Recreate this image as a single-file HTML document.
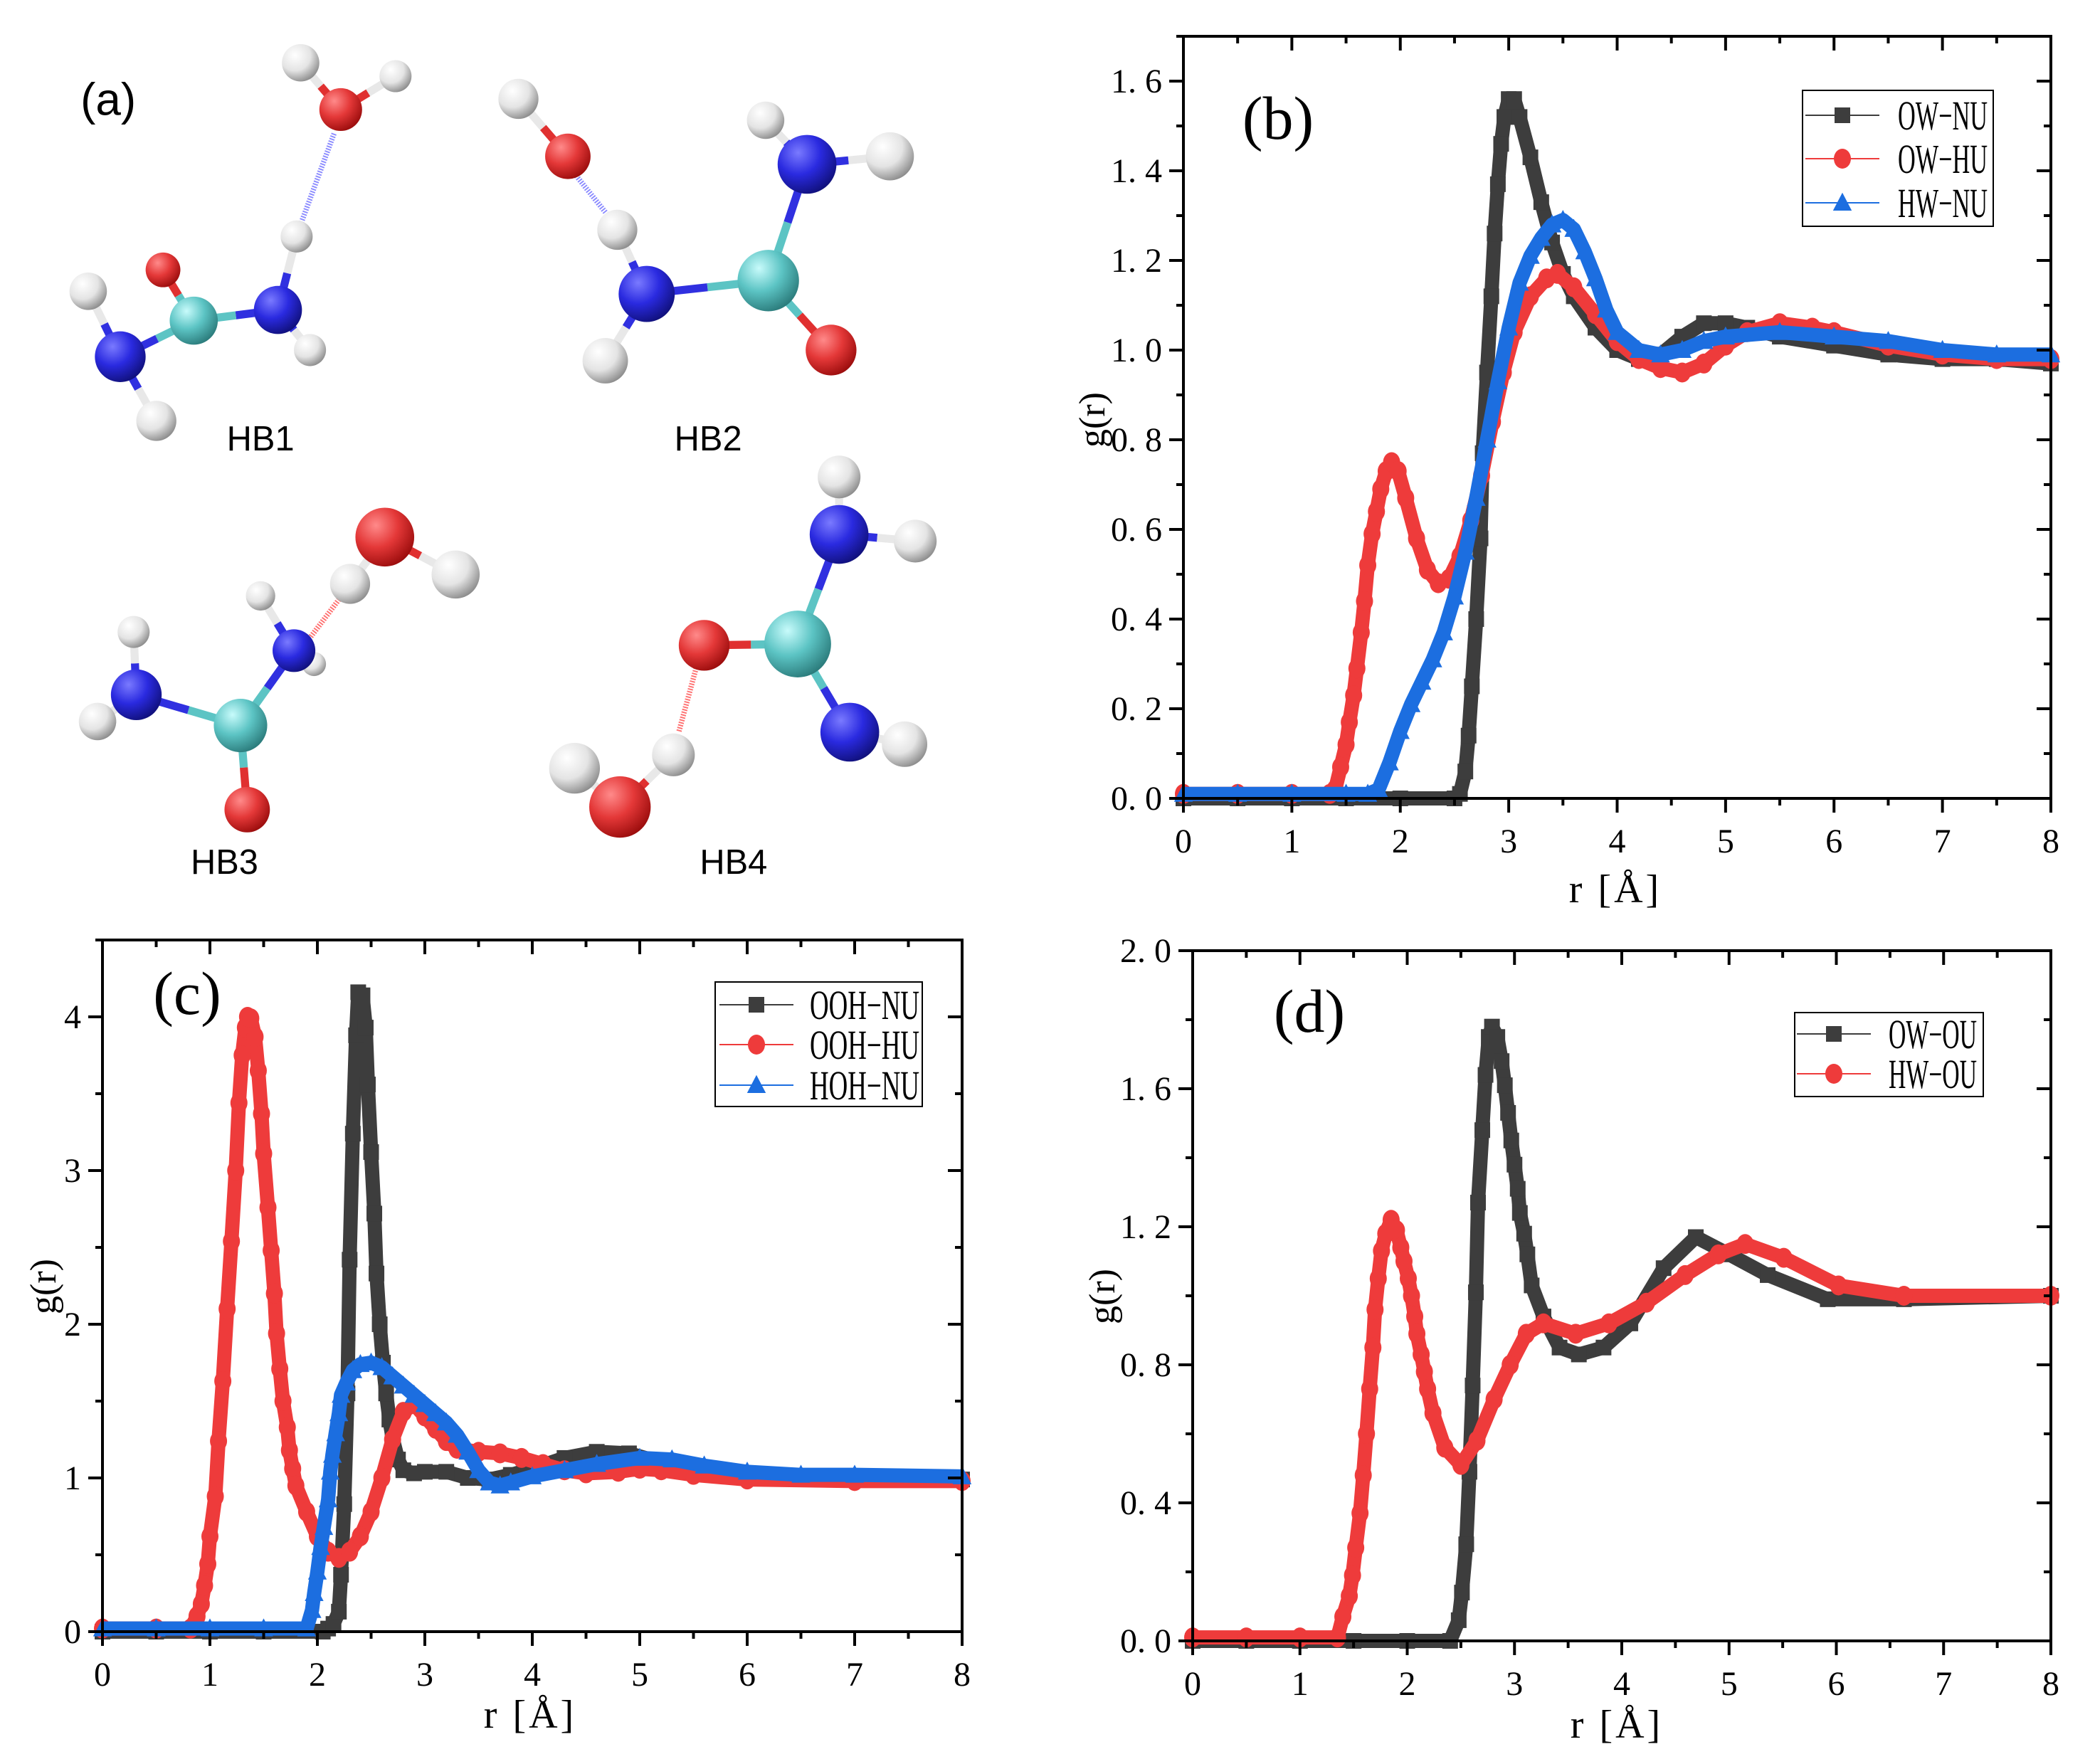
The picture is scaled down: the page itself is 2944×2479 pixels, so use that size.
<!DOCTYPE html>
<html><head><meta charset="utf-8"><style>
html,body{margin:0;padding:0;background:#fff}
svg{display:block}
</style></head><body>
<svg id="fig" xmlns="http://www.w3.org/2000/svg" width="2944" height="2479" viewBox="0 0 2944 2479">
<defs>
<radialGradient id="gW" cx="35%" cy="30%" r="75%"><stop offset="0" stop-color="#ffffff"/><stop offset="0.55" stop-color="#e4e4e4"/><stop offset="1" stop-color="#8a8a8a"/></radialGradient>
<radialGradient id="gR" cx="35%" cy="30%" r="75%"><stop offset="0" stop-color="#ff8a8a"/><stop offset="0.5" stop-color="#e43838"/><stop offset="1" stop-color="#9a0c0c"/></radialGradient>
<radialGradient id="gB" cx="35%" cy="30%" r="75%"><stop offset="0" stop-color="#7a7aff"/><stop offset="0.5" stop-color="#2a2ae0"/><stop offset="1" stop-color="#10107a"/></radialGradient>
<radialGradient id="gC" cx="35%" cy="30%" r="75%"><stop offset="0" stop-color="#c8fbfb"/><stop offset="0.5" stop-color="#5cc4c4"/><stop offset="1" stop-color="#2a7a7a"/></radialGradient>
</defs>
<g id="panelA" transform="scale(1.8776)"></g>
<g id="charts"></g>
</svg>
<script>
// ---------- Panel (b) data ----------
const bBlackX = [0,0.5,1,1.5,2,2.5,2.55,2.6,2.63,2.66,2.7,2.74,2.76,2.8,2.84,2.87,2.9,2.93,2.96,3.0,3.05,3.1,3.2,3.3,3.4,3.5,3.6,3.8,4.0,4.2,4.4,4.6,4.8,5.0,5.2,5.5,6.0,6.5,7.0,7.5,8.0];
const bBlackY = [0,0,0,0,0,0,0.01,0.06,0.14,0.25,0.40,0.58,0.77,0.95,1.12,1.26,1.37,1.46,1.52,1.56,1.56,1.52,1.43,1.33,1.24,1.17,1.12,1.05,1.00,0.98,0.99,1.03,1.06,1.06,1.05,1.03,1.01,0.99,0.98,0.98,0.97];
const bRedX = [0,0.5,1,1.35,1.4,1.45,1.5,1.53,1.57,1.6,1.64,1.67,1.7,1.74,1.78,1.82,1.87,1.92,1.98,2.05,2.15,2.25,2.35,2.45,2.55,2.65,2.75,2.85,2.95,3.05,3.2,3.35,3.45,3.6,3.8,4.0,4.2,4.4,4.6,4.8,5.0,5.2,5.5,5.8,6.0,6.5,7.0,7.5,8.0];
const bRedY = [0.01,0.01,0.01,0.01,0.02,0.07,0.12,0.17,0.23,0.29,0.37,0.44,0.52,0.59,0.64,0.69,0.73,0.75,0.73,0.67,0.58,0.51,0.48,0.49,0.54,0.62,0.72,0.84,0.95,1.04,1.12,1.16,1.17,1.14,1.08,1.02,0.98,0.96,0.95,0.97,1.01,1.04,1.06,1.05,1.04,1.01,0.99,0.98,0.98];
const bBlueX = [0,0.5,1,1.5,1.7,1.8,1.9,2.0,2.1,2.2,2.3,2.4,2.5,2.6,2.7,2.8,2.9,3.0,3.1,3.2,3.3,3.4,3.5,3.6,3.7,3.8,3.9,4.0,4.2,4.4,4.6,4.8,5.0,5.5,6.0,6.5,7.0,7.5,8.0];
const bBlueY = [0.01,0.01,0.01,0.01,0.01,0.02,0.08,0.15,0.21,0.26,0.31,0.37,0.45,0.55,0.67,0.80,0.93,1.05,1.15,1.21,1.25,1.28,1.29,1.27,1.22,1.16,1.09,1.04,1.00,0.99,1.00,1.02,1.03,1.04,1.03,1.02,1.00,0.99,0.99];
// ---------- Panel (c) data ----------
const cBlackX = [0,0.5,1,1.5,2.05,2.1,2.15,2.2,2.22,2.25,2.28,2.3,2.33,2.36,2.38,2.42,2.45,2.47,2.5,2.53,2.55,2.58,2.61,2.64,2.67,2.7,2.75,2.8,2.9,3.0,3.2,3.4,3.6,3.8,4.0,4.3,4.6,4.9,5.2,5.5,6.0,7.0,8.0];
const cBlackY = [0,0,0,0,0,0.02,0.05,0.13,0.37,0.83,1.55,2.42,3.24,3.88,4.16,4.14,3.93,3.56,3.12,2.72,2.33,2.0,1.75,1.55,1.38,1.26,1.12,1.05,1.03,1.04,1.04,1.0,0.99,1.02,1.06,1.13,1.17,1.16,1.10,1.04,1.0,1.0,0.99];
const cRedX = [0,0.5,0.82,0.88,0.92,0.95,0.98,1.0,1.05,1.08,1.12,1.16,1.2,1.24,1.27,1.3,1.33,1.35,1.38,1.42,1.45,1.48,1.5,1.54,1.57,1.6,1.62,1.65,1.68,1.72,1.74,1.77,1.8,1.9,2.0,2.1,2.2,2.3,2.4,2.5,2.6,2.7,2.8,2.9,3.0,3.1,3.2,3.3,3.5,3.7,3.9,4.1,4.3,4.5,4.8,5.0,5.2,5.5,6.0,7.0,8.0];
const cRedY = [0.02,0.02,0.02,0.1,0.18,0.3,0.44,0.62,0.88,1.24,1.63,2.1,2.54,3.0,3.44,3.75,3.93,4.0,3.99,3.87,3.65,3.37,3.11,2.76,2.48,2.2,1.94,1.71,1.5,1.33,1.18,1.06,0.95,0.78,0.62,0.52,0.48,0.52,0.62,0.78,1.0,1.25,1.43,1.48,1.4,1.32,1.24,1.19,1.17,1.16,1.13,1.09,1.05,1.03,1.04,1.06,1.05,1.02,0.99,0.98,0.98];
const cBlueX = [0,0.5,1,1.5,1.9,1.95,1.97,2.0,2.03,2.06,2.1,2.12,2.14,2.17,2.2,2.22,2.27,2.33,2.4,2.5,2.6,2.7,2.8,2.9,3.0,3.1,3.2,3.3,3.4,3.5,3.6,3.7,3.8,4.0,4.3,4.6,5.0,5.3,5.6,6.0,6.5,7.0,8.0];
const cBlueY = [0.02,0.02,0.02,0.02,0.02,0.14,0.25,0.39,0.55,0.68,0.86,1.04,1.15,1.29,1.42,1.54,1.62,1.7,1.74,1.75,1.72,1.66,1.6,1.54,1.48,1.42,1.36,1.28,1.17,1.05,0.97,0.95,0.97,1.01,1.05,1.09,1.13,1.12,1.08,1.04,1.02,1.02,1.01];
// ---------- Panel (d) data ----------
const dBlackX = [0,0.5,1,1.5,2,2.4,2.48,2.51,2.55,2.58,2.61,2.64,2.66,2.7,2.73,2.76,2.79,2.84,2.88,2.91,2.94,2.97,3.0,3.03,3.05,3.09,3.12,3.16,3.27,3.42,3.6,3.83,4.08,4.39,4.69,5.0,5.36,5.92,6.63,8.0];
const dBlackY = [0,0,0,0,0,0,0.06,0.14,0.28,0.49,0.74,1.01,1.27,1.48,1.64,1.75,1.78,1.75,1.68,1.61,1.53,1.45,1.38,1.31,1.24,1.18,1.12,1.03,0.94,0.85,0.83,0.85,0.92,1.08,1.17,1.12,1.06,0.99,0.99,1.0];
const dRedX = [0,0.5,1,1.35,1.4,1.46,1.49,1.52,1.56,1.59,1.62,1.65,1.68,1.7,1.73,1.76,1.8,1.85,1.9,1.94,1.97,2.01,2.04,2.07,2.09,2.13,2.16,2.19,2.24,2.35,2.5,2.65,2.81,2.96,3.11,3.27,3.57,3.88,4.23,4.59,4.9,5.15,5.51,6.02,6.63,8.0];
const dRedY = [0.01,0.01,0.01,0.01,0.07,0.13,0.19,0.27,0.37,0.48,0.6,0.73,0.85,0.96,1.05,1.13,1.18,1.22,1.19,1.14,1.1,1.05,1.0,0.94,0.89,0.83,0.78,0.73,0.66,0.56,0.51,0.58,0.7,0.8,0.89,0.92,0.89,0.92,0.98,1.06,1.12,1.15,1.11,1.03,1.0,1.0];
// ---------- Tick labels ----------
const bYTicks = [0,0.2,0.4,0.6,0.8,1.0,1.2,1.4,1.6];
const bYLabels = ["0. 0","0. 2","0. 4","0. 6","0. 8","1. 0","1. 2","1. 4","1. 6"];
const cYTicks = [0,1,2,3,4];
const cYLabels = ["0","1","2","3","4"];
const dYTicks = [0,0.4,0.8,1.2,1.6,2.0];
const dYLabels = ["0. 0","0. 4","0. 8","1. 2","1. 6","2. 0"];
const xTicks = [0,1,2,3,4,5,6,7,8];
const xLabels = ["0","1","2","3","4","5","6","7","8"];
const bLegend = ["OW−NU","OW−HU","HW−NU"];
const cLegend = ["OOH−NU","OOH−HU","HOH−NU"];
const dLegend = ["OW−OU","HW−OU"];

const NS = "http://www.w3.org/2000/svg";
function mk(tag, attrs, parent){ const e=document.createElementNS(NS,tag); for(const k in attrs) e.setAttribute(k,attrs[k]); if(parent) parent.appendChild(e); return e; }
const COL = {black:"#3d3d3d", red:"#ee3b3b", blue:"#1c6ee0"};
const SERIF = '"Liberation Serif","Noto Serif CJK SC",serif';

function marker(g, kind, cx, cy, s, col){
  let m;
  if(kind==="square") m = mk("rect",{x:cx-s/2,y:cy-s/2,width:s,height:s,fill:col},g);
  else if(kind==="circle") m = mk("ellipse",{cx:cx,cy:cy,rx:s/2+1,ry:s/2+3,fill:col},g);
  else m = mk("polygon",{points:`${cx},${cy-s*0.65} ${cx-s*0.6},${cy+s*0.5} ${cx+s*0.6},${cy+s*0.5}`,fill:col},g);
  return m;
}

function drawPanel(p){
  const root = document.getElementById("charts");
  const g = mk("g",{},root);
  
  
  const sx = v => p.L + v/8*(p.R-p.L);
  const sy = v => p.B - v/p.ymax*(p.B-p.T);
  p.series.forEach(s=>{
    const sg = mk("g",{},g);
    
    
    const pts = s.x.map((x,i)=>sx(x)+","+sy(s.y[i])).join(" ");
    mk("polyline",{points:pts,fill:"none",stroke:s.col,"stroke-width":2},sg);
    const band = mk("polyline",{points:pts,fill:"none",stroke:s.col,"stroke-width":p.band,"stroke-linejoin":"round","stroke-linecap":"butt","stroke-opacity":1},sg);
    
    
    s.x.forEach((x,i)=>{
      const m = marker(sg, s.kind, sx(x), sy(s.y[i]), p.ms, s.col);
      
      
    });
  });
  const fr = mk("rect",{x:p.L,y:p.T,width:p.R-p.L,height:p.B-p.T,fill:"none",stroke:"#000","stroke-width":4},g);
  
  
  for(let v=0; v<=8.001; v+=0.5){
    const major = Math.abs(v-Math.round(v))<1e-6;
    const len = major?20:10;
    mk("line",{x1:sx(v),x2:sx(v),y1:p.B,y2:p.B+len,stroke:"#000","stroke-width":4},g);
    mk("line",{x1:sx(v),x2:sx(v),y1:p.T,y2:p.T+len,stroke:"#000","stroke-width":4},g);
  }
  xTicks.forEach((v,i)=>{
    const t = mk("text",{x:sx(v),y:p.B+p.xlabDy,"font-family":SERIF,"font-size":48,"text-anchor":"middle"},g);
    t.textContent = xLabels[i];
    
    
  });
  for(let v=0; v<=p.ymax+1e-6; v+=p.yminor){
    const isMajor = p.yt.some(t=>Math.abs(t-v)<1e-6);
    const len = isMajor?20:10;
    mk("line",{x1:p.L-len,x2:p.L,y1:sy(v),y2:sy(v),stroke:"#000","stroke-width":4},g);
    mk("line",{x1:p.R-len,x2:p.R,y1:sy(v),y2:sy(v),stroke:"#000","stroke-width":4},g);
  }
  p.yt.forEach((v,i)=>{
    const t = mk("text",{x:p.L-30,y:sy(v)+16,"font-family":SERIF,"font-size":48,"text-anchor":"end"},g);
    t.textContent = p.yl[i];
    
    
  });
  const xt = mk("text",{x:p.xtX,y:p.xtY,"font-family":SERIF,"font-size":56,"text-anchor":"middle","letter-spacing":"4"},g);
  xt.textContent = "r [Å]";
  
  
  const yt = mk("text",{x:0,y:0,"font-family":SERIF,"font-size":52,"text-anchor":"middle",transform:`translate(${p.ytX},${p.ytY}) rotate(-90)`},g);
  yt.textContent = "g(r)";
  
  
  const pl = mk("text",{x:p.plX,y:p.plY,"font-family":SERIF,"font-size":86,"text-anchor":"middle"},g);
  pl.textContent = p.label;
  
  
  const lg = mk("g",{},g);
  
  
  mk("rect",{x:p.lg.x,y:p.lg.y,width:p.lg.w,height:p.lg.h,fill:"#fff",stroke:"#000","stroke-width":2},lg);
  p.series.forEach((s,i)=>{
    const ey = p.lg.ey[i];
    const eg = mk("g",{},lg);
    
    
    mk("line",{x1:p.lg.mx-52,x2:p.lg.mx+52,y1:ey,y2:ey,stroke:s.col,"stroke-width":2},eg);
    marker(eg, s.kind, p.lg.mx, ey, 22, s.col);
    const t = mk("text",{x:p.lg.tx,y:ey+20,"font-family":SERIF,"font-size":58,textLength:p.lg.tw,lengthAdjust:"spacingAndGlyphs"},eg);
    t.textContent = p.legend[i];
  });
}

drawPanel({name:"chart-b", L:1663,R:2882,T:51,B:1122,ymax:1.7,yminor:0.1,yt:bYTicks,yl:bYLabels,
  band:20, ms:22, xlabDy:76, xtX:2270, xtY:1268, ytX:1552, ytY:590, plX:1796, plY:195, label:"(b)",
  lg:{x:2533,y:127,w:268,h:191,ey:[162,223,285],mx:2589,tx:2667,tw:126}, legend:bLegend,
  series:[{id:"ow-nu",x:bBlackX,y:bBlackY,col:COL.black,kind:"square"},
          {id:"ow-hu",x:bRedX,y:bRedY,col:COL.red,kind:"circle"},
          {id:"hw-nu",x:bBlueX,y:bBlueY,col:COL.blue,kind:"triangle"}]});
drawPanel({name:"chart-c", L:144,R:1352,T:1321,B:2293,ymax:4.5,yminor:0.5,yt:cYTicks,yl:cYLabels,
  band:20, ms:22, xlabDy:76, xtX:745, xtY:2428, ytX:78, ytY:1808, plX:263, plY:1425, label:"(c)",
  lg:{x:1005,y:1380,w:291,h:175,ey:[1412,1468,1525],mx:1063,tx:1138,tw:154}, legend:cLegend,
  series:[{id:"ooh-nu",x:cBlackX,y:cBlackY,col:COL.black,kind:"square"},
          {id:"ooh-hu",x:cRedX,y:cRedY,col:COL.red,kind:"circle"},
          {id:"hoh-nu",x:cBlueX,y:cBlueY,col:COL.blue,kind:"triangle"}]});
drawPanel({name:"chart-d", L:1676,R:2882,T:1336,B:2306,ymax:2.0,yminor:0.2,yt:dYTicks,yl:dYLabels,
  band:20, ms:22, xlabDy:76, xtX:2272, xtY:2442, ytX:1566, ytY:1822, plX:1840, plY:1450, label:"(d)",
  lg:{x:2522,y:1423,w:265,h:118,ey:[1453,1509],mx:2577,tx:2654,tw:124}, legend:dLegend,
  series:[{id:"ow-ou",x:dBlackX,y:dBlackY,col:COL.black,kind:"square"},
          {id:"hw-ou",x:dRedX,y:dRedY,col:COL.red,kind:"circle"}]});

// ---------- Panel (a) molecules (display coords, scaled) ----------
const mols = [
 {name:"hb1", atoms:[["H",225,47,14],["H",296,57,12],["O",255,82,16],["H",222,177,12],["N",208,232,18],["H",232,262,12],["C",145,240,18],["O",122,202,13],["N",90,267,19],["H",66,218,14],["H",117,315,15]],
  bonds:[[0,2],[1,2],[3,4],[4,5],[4,6],[6,7],[6,8],[8,9],[8,10]], hb:[250,100,225,168,"#8a8aff"], label:["HB1",195,337]},
 {name:"hb2", atoms:[["H",388,74,15],["O",425,117,17],["H",462,172,15],["N",484,220,21],["C",575,210,23],["N",604,123,22],["H",573,90,14],["H",666,117,18],["O",622,262,19],["H",453,270,17]],
  bonds:[[0,1],[2,3],[3,4],[4,5],[5,6],[5,7],[4,8],[3,9]], hb:[430,130,458,165,"#8a8aff"], label:["HB2",530,337]},
 {name:"hb3", atoms:[["O",288,402,22],["H",341,430,18],["H",262,437,15],["H",195,446,11],["H",235,497,9],["N",220,487,16],["C",180,543,20],["O",185,606,17],["N",102,520,19],["H",100,473,12],["H",73,540,14]],
  bonds:[[0,1],[0,2],[5,3],[5,4],[5,6],[6,7],[6,8],[8,9],[8,10]], hb:[255,447,230,480,"#ff7070"], label:["HB3",168,654]},
 {name:"hb4", atoms:[["H",628,357,16],["N",628,400,22],["H",685,405,16],["C",597,482,25],["O",527,483,19],["H",677,557,17],["N",636,548,22],["H",430,575,19],["H",504,565,16],["O",464,604,23]],
  bonds:[[0,1],[1,2],[1,3],[3,4],[3,6],[6,5],[7,9],[8,9]], hb:[521,500,508,548,"#ff7070"], label:["HB4",549,654]}
];
const grad = {H:"url(#gW)",O:"url(#gR)",N:"url(#gB)",C:"url(#gC)"};
const bcol = {H:"#e8e8e8",O:"#e03030",N:"#3030e0",C:"#5cc4c4"};
const pa = document.getElementById("panelA");
const al = mk("text",{x:81,y:86,"font-family":'"Liberation Sans",sans-serif',"font-size":34,"text-anchor":"middle"},pa);
al.textContent = "(a)";


mols.forEach(m=>{
  const g = mk("g",{},pa);
  
  
  const h = m.hb;
  mk("line",{x1:h[0],y1:h[1],x2:h[2],y2:h[3],stroke:h[4],"stroke-width":4,"stroke-dasharray":"1 1"},g);
  m.bonds.forEach(b=>{
    const a=m.atoms[b[0]], c=m.atoms[b[1]];
    const mx=(a[1]+c[1])/2, my=(a[2]+c[2])/2;
    mk("line",{x1:a[1],y1:a[2],x2:mx,y2:my,stroke:bcol[a[0]],"stroke-width":6},g);
    mk("line",{x1:mx,y1:my,x2:c[1],y2:c[2],stroke:bcol[c[0]],"stroke-width":6},g);
  });
  m.atoms.forEach(a=>{
    const c = mk("circle",{cx:a[1],cy:a[2],r:a[3],fill:grad[a[0]]},g);
    
    
  });
  const t = mk("text",{x:m.label[1],y:m.label[2],"font-family":'"Liberation Sans",sans-serif',"font-size":26,"text-anchor":"middle"},g);
  t.textContent = m.label[0];
  
  
});
</script>
</body></html>
